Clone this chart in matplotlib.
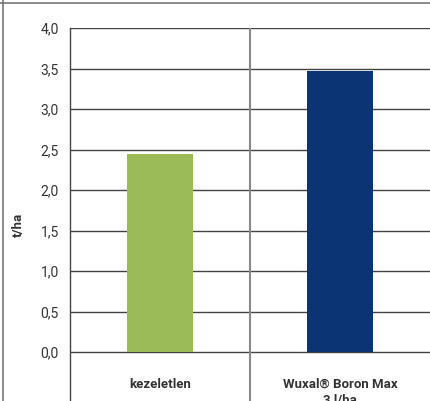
import matplotlib
matplotlib.use('Agg')
import matplotlib.pyplot as plt
from matplotlib.ticker import FuncFormatter

categories = ["kezeletlen", "Wuxal® Boron Max\n3 l/ha"]
values = [2.44, 3.47]
bar_colors = ["#9BBB59", "#0A3473"]
yticks = [0.0, 0.5, 1.0, 1.5, 2.0, 2.5, 3.0, 3.5, 4.0]

plt.rcParams['font.family'] = ['Roboto', 'DejaVu Sans']

fig = plt.figure(figsize=(4.30, 4.01), dpi=100)
ax = fig.add_axes([70 / 430, 0, 360 / 430, 373 / 401])

x = list(range(len(categories)))
ax.bar(x, values, width=0.37, color=bar_colors, zorder=3)

ax.set_xlim(-0.5, 1.5)
ax.set_ylim(-49 / 81, 4.0)
ax.set_yticks(yticks)
ax.yaxis.set_major_formatter(FuncFormatter(lambda v, p: f"{v:.1f}".replace(".", ",")))
ax.tick_params(axis='y', length=0, pad=8, labelsize=10, labelcolor='#333333')
ax.set_xticks([])

for t in yticks:
    ax.axhline(t, color='#444444', linewidth=1.0, zorder=2)
ax.axvline(0.5, color='#888888', linewidth=1.5, zorder=2)

for s in ['top', 'right', 'bottom']:
    ax.spines[s].set_visible(False)
ax.spines['left'].set_color('#444444')
ax.spines['left'].set_linewidth(1.0)

for xi, lab in zip(x, categories):
    ax.text(xi, -0.32, lab, ha='center', va='top', fontsize=9.5,
            fontweight='bold', color='#333333', linespacing=1.3)

fig.text(18 / 430, 1 - 225 / 401, "t/ha", rotation=90, ha='center', va='center',
         fontsize=9.5, fontweight='bold', color='#333333')

# outer frame lines (top and left)
fig.add_artist(plt.Line2D([0, 1], [1 - 2.5 / 401] * 2, color='#777777', linewidth=1.2))
fig.add_artist(plt.Line2D([2.5 / 430] * 2, [0, 1], color='#777777', linewidth=1.2))

fig.savefig("out.png", dpi=100)
